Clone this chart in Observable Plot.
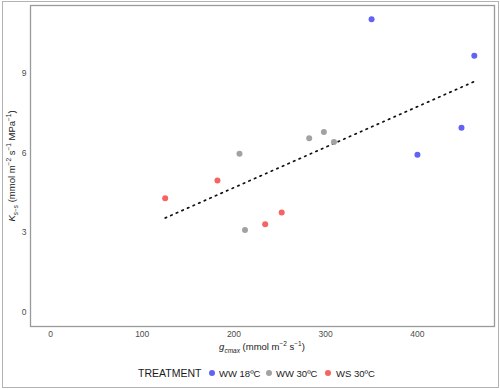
<!DOCTYPE html>
<html>
<head>
<meta charset="utf-8">
<script src="https://cdn.jsdelivr.net/npm/d3@7"></script>
<script src="https://cdn.jsdelivr.net/npm/@observablehq/plot@0.6"></script>
<style>
  body { margin: 0; background: #fff; font-family: "Liberation Sans", Arial, sans-serif; }
  #wrap { position: relative; width: 500px; height: 389px; overflow: hidden; }
  #outer { position: absolute; left: 2px; top: 1px; width: 495px; height: 385px; border: 1px solid #b3b3b3; pointer-events: none; }
  .ttl { position: absolute; color: #1a1a1a; font-size: 9.5px; white-space: nowrap; }
  .ttl sub, .ttl sup { font-size: 6.5px; }
  .leg { position: absolute; font-size: 10.5px; color: #1a1a1a; white-space: nowrap; transform: translateY(-50%); }
  .dot { position: absolute; width: 6px; height: 6px; border-radius: 50%; transform: translate(-50%, -50%); }
</style>
</head>
<body>
<div id="wrap"></div>
<script>
// Data
const treatments = ["WW 18ºC", "WW 30ºC", "WS 30ºC"];
const colors = ["#6262f7", "#a2a2a2", "#f76262"];

const ww18_g = [350, 462, 448, 400];
const ww18_k = [11.03, 9.66, 6.95, 5.93];
const ww30_g = [282, 298, 309, 206, 212];
const ww30_k = [6.55, 6.79, 6.41, 5.97, 3.10];
const ws30_g = [182, 125, 234, 252];
const ws30_k = [4.96, 4.30, 3.32, 3.76];

const xTicks = [0, 100, 200, 300, 400];
const yTicks = [0, 3, 6, 9];

const rows = [];
[[ww18_g, ww18_k], [ww30_g, ww30_k], [ws30_g, ws30_k]].forEach(([g, k], i) => {
  g.forEach((v, j) => rows.push({treatment: treatments[i], g: v, k: k[j]}));
});

const chart = Plot.plot({
  width: 500,
  height: 389,
  marginLeft: 30,
  marginRight: 6,
  marginTop: 5,
  marginBottom: 63,
  style: {fontFamily: "Liberation Sans, Arial, sans-serif", fontSize: "8.5px", color: "#4d4d4d", background: "transparent"},
  x: {domain: [-21.8, 484], ticks: xTicks, tickSize: 0, tickPadding: 4, label: null},
  y: {domain: [-0.53, 11.55], ticks: yTicks, tickSize: 0, tickPadding: 4, label: null},
  color: {domain: treatments, range: colors},
  marks: [
    Plot.frame({stroke: "#9a9a9a", strokeWidth: 1.3}),
    Plot.linearRegressionY(rows, {x: "g", y: "k", ci: 0, stroke: "#111", strokeWidth: 1.7, strokeDasharray: "1.5,4.6"}),
    Plot.dot(rows, {x: "g", y: "k", fill: "treatment", r: 3})
  ]
});

const wrap = document.getElementById("wrap");
wrap.appendChild(chart);

// Axis titles
const xt = document.createElement("div");
xt.className = "ttl";
xt.innerHTML = '<i>g<sub>cmax</sub></i> (mmol m<sup>−2</sup> s<sup>−1</sup>)';
xt.style.left = "262px"; xt.style.top = "347px"; xt.style.transform = "translate(-50%, -50%)";
wrap.appendChild(xt);

const yt = document.createElement("div");
yt.className = "ttl";
yt.innerHTML = '<i>K<sub>s−s</sub></i> (mmol m<sup>−2</sup> s<sup>−1</sup> MPa<sup>−1</sup>)';
yt.style.left = "12px"; yt.style.top = "166px"; yt.style.transform = "translate(-50%, -50%) rotate(-90deg)";
wrap.appendChild(yt);

// Legend
const legY = 373;
const title = document.createElement("div");
title.className = "leg"; title.textContent = "TREATMENT";
title.style.left = "138px"; title.style.top = legY + "px";
wrap.appendChild(title);
const dotX = [212, 269, 328];
const txtX = [219, 276, 336];
treatments.forEach((t, i) => {
  const d = document.createElement("div");
  d.className = "dot"; d.style.background = colors[i];
  d.style.left = dotX[i] + "px"; d.style.top = legY + "px";
  wrap.appendChild(d);
  const l = document.createElement("div");
  l.className = "leg"; l.textContent = t; l.style.fontSize = "9.5px";
  l.style.left = txtX[i] + "px"; l.style.top = legY + "px";
  wrap.appendChild(l);
});

const outer = document.createElement("div");
outer.id = "outer";
wrap.appendChild(outer);
</script>
</body>
</html>
